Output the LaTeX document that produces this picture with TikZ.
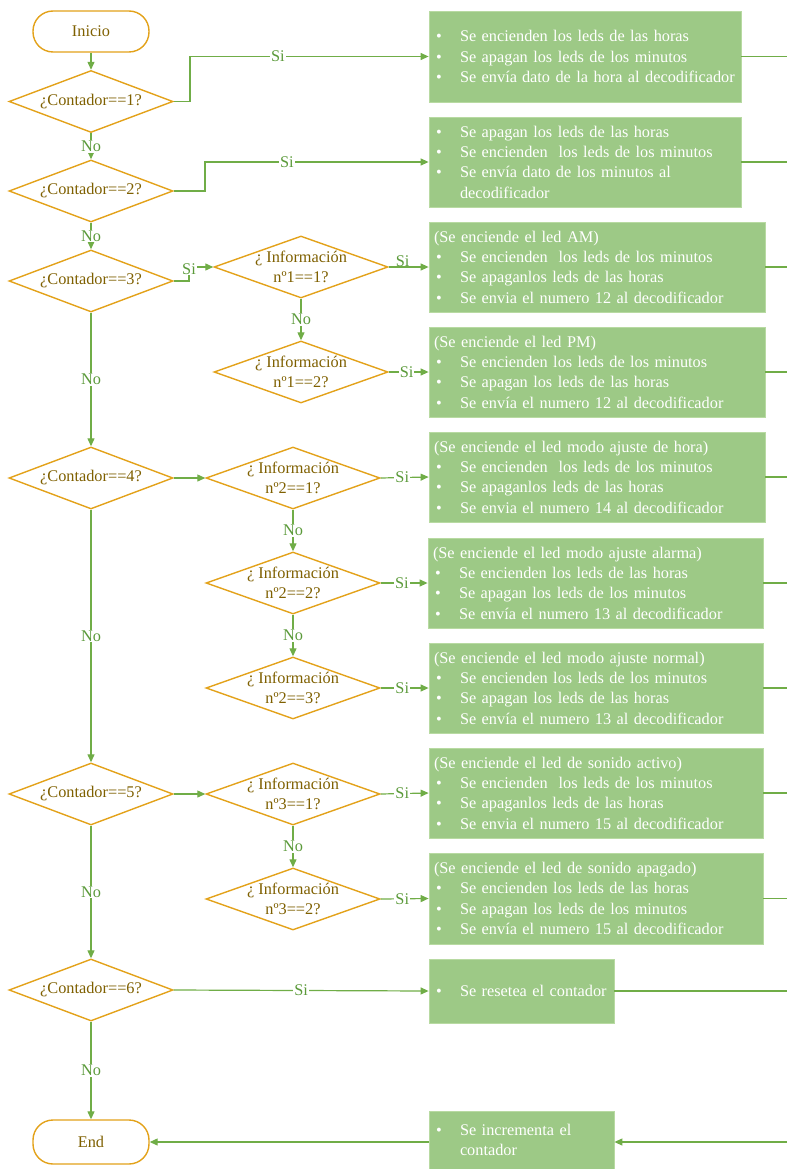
\documentclass[tikz,border=0pt]{standalone}
\usepackage{fontspec}
\setmainfont{Liberation Serif}
\usetikzlibrary{shapes.geometric,arrows.meta}
\definecolor{gold}{HTML}{E3A21A}
\definecolor{goldtext}{HTML}{7F6000}
\definecolor{lgreen}{HTML}{70AD47}
\definecolor{lbltext}{HTML}{5B9A3A}
\definecolor{boxfill}{HTML}{9DC986}
\definecolor{boxline}{HTML}{B8DAA2}
\newcommand\bul[1]{\makebox[26pt][l]{\hspace{2pt}\textbullet}\mbox{#1}}
\newcommand\cont{\hspace*{26pt}}
\tikzset{
  fnt/.style={font=\fontsize{16.3}{20.3}\selectfont},
  term/.style={fnt, draw=gold, line width=1.4pt, fill=white, rounded corners=20pt, minimum width=116pt, text=goldtext},
  dia/.style={diamond, draw=gold, line width=1.4pt, fill=white, inner sep=0pt},
  cdia/.style={dia, minimum width=164pt, minimum height=62pt},
  idia/.style={dia, minimum width=174pt, minimum height=62pt},
  dtxt/.style={fnt, text=goldtext, align=center, inner sep=0pt},
  box/.style={fnt, fill=boxfill, draw=boxline, line width=0.8pt, text=white, align=left, inner xsep=5pt, inner ysep=0pt},
  conn/.style={draw=lgreen, line width=1.2pt},
  arr/.style={conn, -{Triangle[length=8pt,width=7pt]}},
  lbl/.style={fnt, text=lbltext, fill=white, inner sep=1pt},
}
\begin{document}
\begin{tikzpicture}[x=1pt,y=-1pt]
\useasboundingbox (0,0) rectangle (787,1169);
% terminals
\node[term, minimum height=41pt] (ini) at (91,31.5) {Inicio};
\node[term, minimum height=44pt] (fin) at (91,1142) {End};
% Contador diamonds
\node[cdia] (c1) at (91,101.5) {};
\node[dtxt] (c1t) at (c1) {¿Contador==1?};
\node[cdia] (c2) at (91,191) {};
\node[dtxt] (c2t) at (c2) {¿Contador==2?};
\node[cdia] (c3) at (91,281) {};
\node[dtxt] (c3t) at (c3) {¿Contador==3?};
\node[cdia] (c4) at (91,478) {};
\node[dtxt] (c4t) at (c4) {¿Contador==4?};
\node[cdia] (c5) at (91,794) {};
\node[dtxt] (c5t) at (c5) {¿Contador==5?};
\node[cdia] (c6) at (91,990) {};
\node[dtxt] (c6t) at (c6) {¿Contador==6?};
% Info diamonds
\node[idia] (i11) at (301,267) {};
\node[dtxt] (i11t) at (i11) {¿ Información\\nº1==1?};
\node[idia] (i12) at (301,372) {};
\node[dtxt] (i12t) at (i12) {¿ Información\\nº1==2?};
\node[idia] (i21) at (293,478) {};
\node[dtxt] (i21t) at (i21) {¿ Información\\nº2==1?};
\node[idia] (i22) at (293,583) {};
\node[dtxt] (i22t) at (i22) {¿ Información\\nº2==2?};
\node[idia] (i23) at (293,688) {};
\node[dtxt] (i23t) at (i23) {¿ Información\\nº2==3?};
\node[idia] (i31) at (293,794) {};
\node[dtxt] (i31t) at (i31) {¿ Información\\nº3==1?};
\node[idia] (i32) at (293,899) {};
\node[dtxt] (i32t) at (i32) {¿ Información\\nº3==2?};
% boxes
\node[box, text width=302pt, minimum height=91pt] (b1) at (585,56.5) {\bul{Se encienden los leds de las horas}\\\bul{Se apagan los leds de los minutos}\\\bul{Se envía\hspace{5pt}dato de la hora al decodificador}};
\node[box, text width=302pt, minimum height=90pt] (b2) at (585,162) {\bul{Se apagan los leds de las horas}\\\bul{Se encienden\ \ los leds de los minutos}\\\bul{Se envía dato de los minutos al}\\\cont decodificador};
\node[box, text width=326pt, minimum height=90pt] (b3) at (597,267) {(Se enciende el led AM)\\\bul{Se encienden\ \ los leds de los minutos}\\\bul{Se apaganlos leds de las horas}\\\bul{Se envia el numero 12 al decodificador}};
\node[box, text width=326pt, minimum height=90pt] (b4) at (597,372) {(Se enciende el led PM)\\\bul{Se encienden los leds de los minutos}\\\bul{Se apagan los leds de las horas}\\\bul{Se envía el numero 12 al decodificador}};
\node[box, text width=326pt, minimum height=90pt] (b5) at (597,477) {(Se enciende el led modo ajuste de hora)\\\bul{Se encienden\ \ los leds de los minutos}\\\bul{Se apaganlos leds de las horas}\\\bul{Se envia el numero 14 al decodificador}};
\node[box, text width=325pt, minimum height=90pt] (b6) at (595.5,583) {(Se enciende el led modo ajuste alarma)\\\bul{Se encienden los leds de las horas}\\\bul{Se apagan los leds de los minutos}\\\bul{Se envía el numero 13 al decodificador}};
\node[box, text width=324pt, minimum height=90pt] (b7) at (596,688) {(Se enciende el led modo ajuste normal)\\\bul{Se encienden los leds de los minutos}\\\bul{Se apagan los leds de las horas}\\\bul{Se envía el numero 13 al decodificador}};
\node[box, text width=324pt, minimum height=90pt] (b8) at (596,793) {(Se enciende el led de sonido activo)\\\bul{Se encienden\ \ los leds de los minutos}\\\bul{Se apaganlos leds de las horas}\\\bul{Se envia el numero 15 al decodificador}};
\node[box, text width=324pt, minimum height=91pt] (b9) at (596,898.5) {(Se enciende el led de sonido apagado)\\\bul{Se encienden los leds de las horas}\\\bul{Se apagan los leds de los minutos}\\\bul{Se envía el numero 15 al decodificador}};
\node[box, text width=175pt, minimum height=64pt] (b10) at (521.5,991) {\bul{Se resetea el contador}};
\node[box, text width=175pt, minimum height=58pt] (b11) at (521.5,1140) {\bul{Se incrementa el}\\\cont contador};
% right edge free ends
\foreach \b in {b1,b2,b3,b4,b5,b6,b7,b8,b9,b10}{
  \coordinate (r-\b) at (787,0 |- \b.east);
  \draw[conn] (\b.east) -- (r-\b);
}
\coordinate (r11) at (787,1142);
% main flow
\draw[arr] (ini) -- (c1);
\draw[arr] (c1) -- node[lbl] (n1) {No} (c2);
\draw[arr] (c2) -- node[lbl] (n2) {No} (c3);
\draw[arr] (c3) -- node[lbl] (n3) {No} (c4);
\draw[arr] (c4) -- node[lbl] (n4) {No} (c5);
\draw[arr] (c5) -- node[lbl] (n5) {No} (c6);
\draw[arr] (c6) -- node[lbl] (n6) {No} (fin);
% yes branches of contador
\draw[arr] (c1.east) -- (190,101.5) |- node[lbl, pos=0.684] (s1) {Si} (b1.west);
\draw[arr] (c2.east) -- (205,191) |- node[lbl, pos=0.683] (s2) {Si} (b2.west);
\draw[arr] (c3.east) -- (189,281) |- (i11.west);
\node[lbl] (s3) at (189,269) {Si};
\draw[arr] (c4.east) -- (i21.west);
\draw[arr] (c5.east) -- (i31.west);
\draw[arr] (c6.east) -- node[lbl] (s4) {Si} (b10.west);
% info flows
\draw[arr] (i11.east) -- node[lbl, above, inner sep=0pt, pos=0.35] (s5) {Si} (b3.west);
\draw[arr] (i11) -- node[lbl] (n7) {No} (i12);
\draw[arr] (i12.east) -- node[lbl, pos=0.45] (s6) {Si} (b4.west);
\draw[arr] (i21.east) -- node[lbl, pos=0.45] (s7) {Si} (b5.west);
\draw[arr] (i21) -- node[lbl] (n8) {No} (i22);
\draw[arr] (i22.east) -- node[lbl, pos=0.45] (s8) {Si} (b6.west);
\draw[arr] (i22) -- node[lbl] (n9) {No} (i23);
\draw[arr] (i23.east) -- node[lbl, pos=0.45] (s9) {Si} (b7.west);
\draw[arr] (i31.east) -- node[lbl, pos=0.45] (s10) {Si} (b8.west);
\draw[arr] (i31) -- node[lbl] (n10) {No} (i32);
\draw[arr] (i32.east) -- node[lbl, pos=0.45] (s11) {Si} (b9.west);
% bottom
\draw[arr] (r11) -- (r11 -| b11.east);
\draw[arr] (fin.east -| b11.west) -- (fin.east);
\end{tikzpicture}
\end{document}
